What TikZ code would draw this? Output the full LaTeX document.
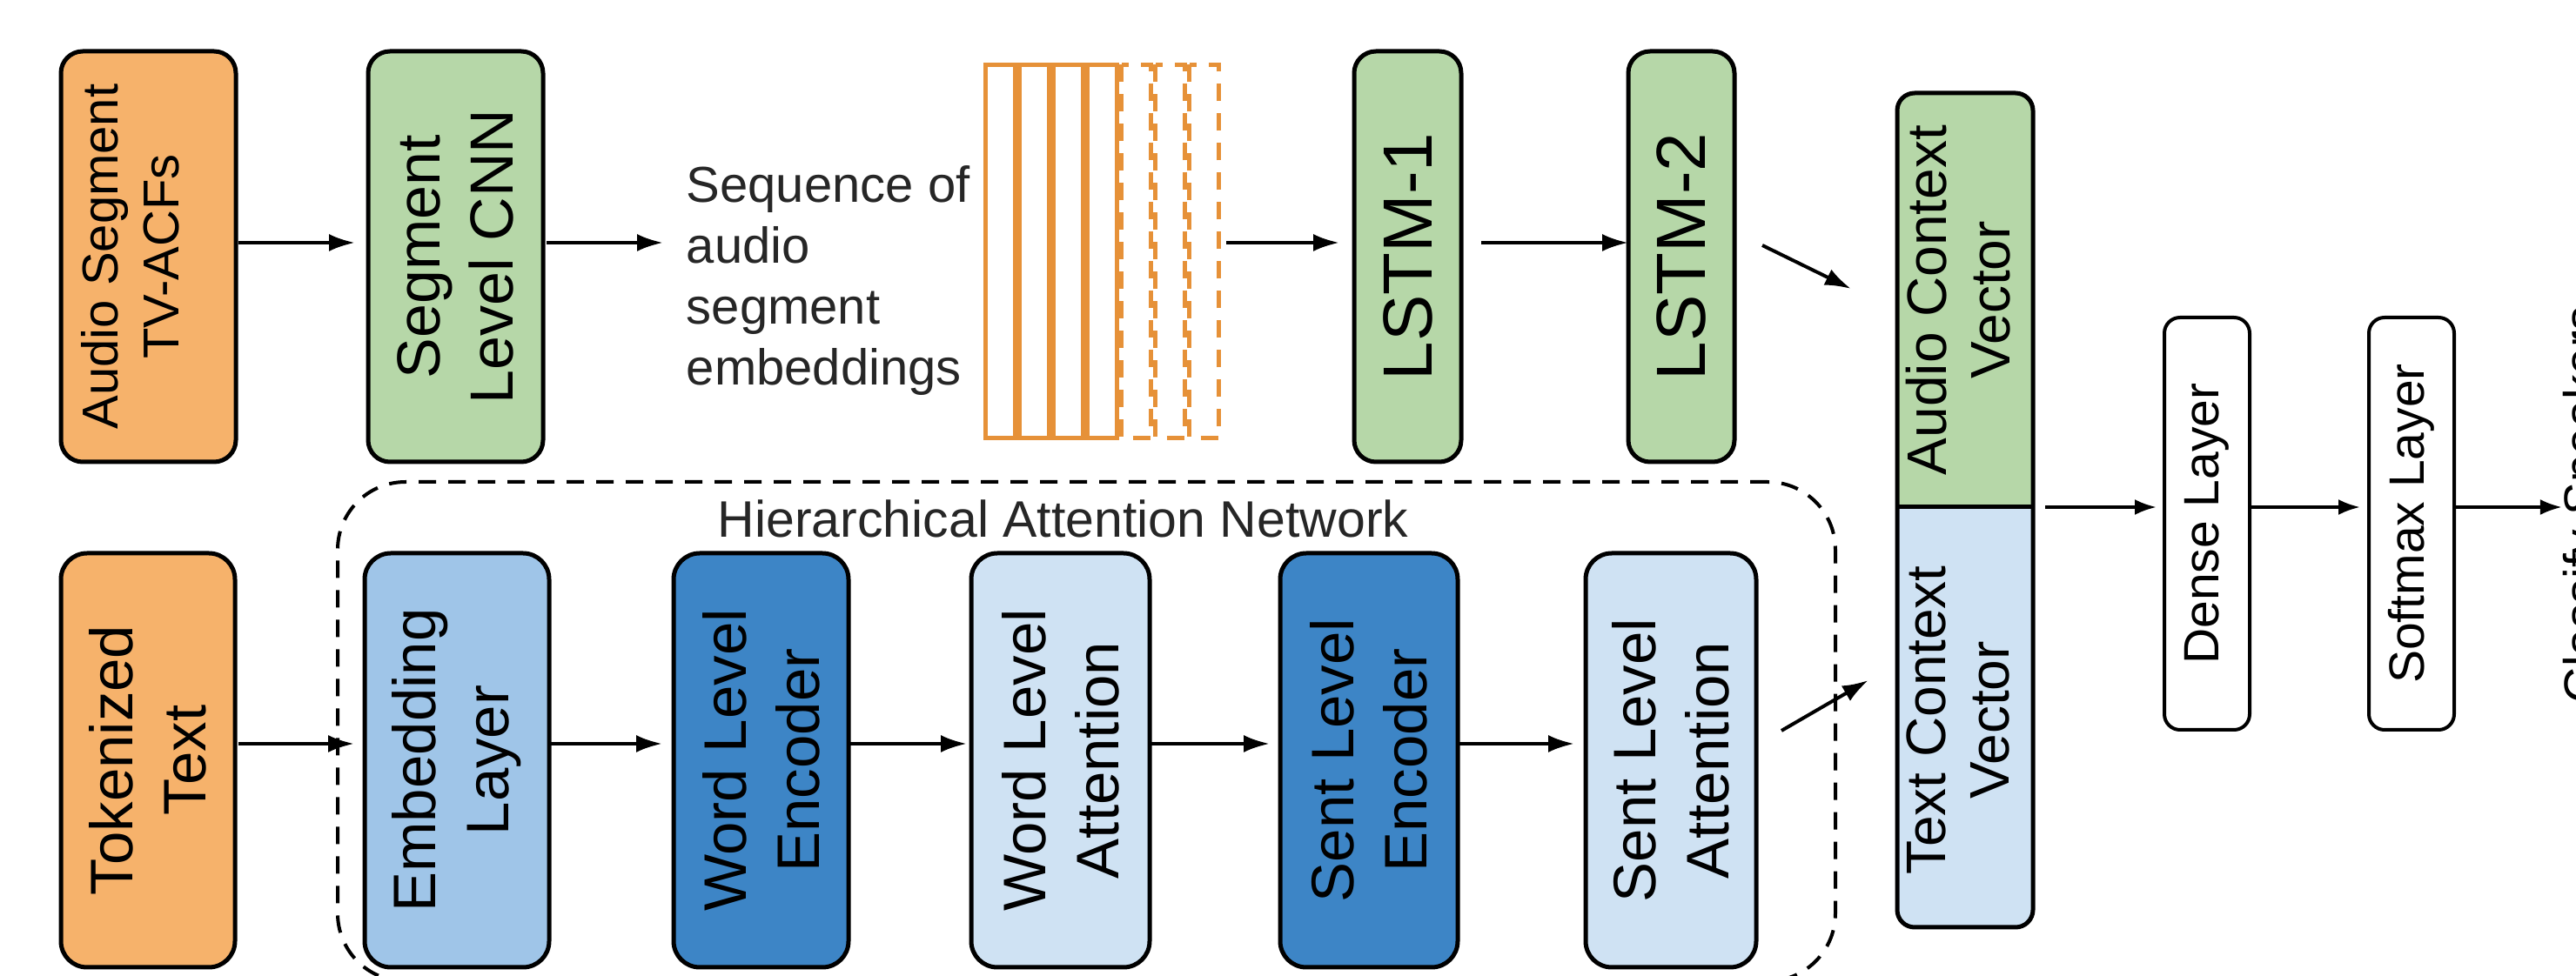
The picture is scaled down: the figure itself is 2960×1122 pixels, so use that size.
\documentclass[tikz,border=0pt]{standalone}
\usepackage{fontspec}
\setmainfont{Liberation Sans}
\usetikzlibrary{arrows.meta}

\definecolor{cOrange}{HTML}{F6B26B}
\definecolor{cGreen}{HTML}{B6D7A8}
\definecolor{cBlueL}{HTML}{9FC5E8}
\definecolor{cBlueD}{HTML}{3D85C6}
\definecolor{cBlueP}{HTML}{CFE2F3}
\definecolor{cStripe}{HTML}{E69138}

\newcommand\pxfont[2]{\fontsize{#1}{#2}\selectfont}

\begin{document}
\begin{tikzpicture}[x=0.25pt, y=-0.25pt,
  blk/.style={draw=black, line width=1.25pt, rotate=90, align=center,
              inner sep=0pt, outer sep=0pt},
  toprow/.style={blk, rounded corners=6.25pt, minimum width=118pt},
  botrow/.style={blk, rounded corners=7.5pt, minimum width=119pt,
                 font=\pxfont{17.25pt}{21pt}},
  sidebox/.style={draw=black, line width=1pt, rotate=90, rounded corners=4.5pt,
                  minimum width=118.5pt, minimum height=24.5pt, inner sep=0pt,
                  outer sep=0pt, fill=white, font=\pxfont{14.25pt}{17pt}},
  rotlabel/.style={rotate=90, align=center, inner sep=0pt},
  arr/.style={-{Latex[length=7.5pt,width=5pt]}, line width=1pt},
  arrs/.style={-{Latex[length=6.25pt,width=4.5pt]}, line width=0.9pt},
  stripebar/.style={draw=cStripe, line width=1.25pt},
]
\useasboundingbox (0,0) rectangle (2960,1122);

% rows along which the horizontal connectors run
\coordinate (rowA) at (0,279);
\coordinate (rowB) at (0,855);
\coordinate (rowC) at (0,583);

% ---------- audio branch ----------
\node[toprow, fill=cOrange, minimum height=50.25pt] (audio) at (170.5,295) {};
\node[rotlabel, font=\pxfont{14.5pt}{17.5pt}] (audioTxt) at (150,295)
  {Audio Segment\\TV-ACFs};
\node[toprow, fill=cGreen, minimum height=50.25pt, font=\pxfont{17.5pt}{21pt}]
  (cnn) at (523.5,295) {Segment\\Level CNN};
\node[anchor=west, align=left, inner sep=0pt, text=black!85,
      font=\pxfont{14.5pt}{17.5pt}] (seq) at (788,323)
  {Sequence of\\audio\\segment\\embeddings};

% sequence of segment embeddings: solid slices, then dashed ones
\node[inner sep=0pt, outer sep=0pt, minimum width=68.5pt, minimum height=108.5pt]
  (stripes) at (1267,289) {};
\foreach \i in {0,1,2,3}
  \draw[stripebar] ({1132.5+39*\i},74.5) rectangle ({1166.5+39*\i},503.5);
\foreach \i in {4,5,6}
  \draw[stripebar, dash pattern=on 5pt off 3.5pt]
    ({1132.5+39*\i},74.5) rectangle ({1166.5+39*\i},503.5);

\node[toprow, fill=cGreen, minimum height=30.75pt, font=\pxfont{20pt}{24pt}]
  (lstm1) at (1617.5,295) {LSTM-1};
\node[toprow, fill=cGreen, minimum height=30.5pt, font=\pxfont{20pt}{24pt}]
  (lstm2) at (1932,295) {LSTM-2};

% ---------- text branch ----------
\node[draw=black, line width=1pt, dash pattern=on 5pt off 3.5pt,
      rounded corners=19.5pt, minimum width=430.25pt, minimum height=143.5pt,
      inner sep=0pt, outer sep=0pt] (han) at (1248.5,841) {};
\node[anchor=base west, inner sep=0pt, text=black!85, font=\pxfont{14.75pt}{18pt}]
  (hanTitle) at (824,618) {Hierarchical Attention Network};

\node[botrow, fill=cOrange, minimum height=50pt] (tok) at (170,874) {Tokenized\\Text};
\node[botrow, fill=cBlueL, minimum height=53pt] (emb) at (525,874) {Embedding\\Layer};
\node[botrow, fill=cBlueD, minimum height=50.25pt] (wenc) at (874.5,874) {Word Level\\Encoder};
\node[botrow, fill=cBlueP, minimum height=51.25pt] (watt) at (1218.5,874) {Word Level\\Attention};
\node[botrow, fill=cBlueD, minimum height=51pt] (senc) at (1573,874) {Sent Level\\Encoder};
\node[botrow, fill=cBlueP, minimum height=49pt] (satt) at (1920,874) {Sent Level\\Attention};

% ---------- joint context vector ----------
\node[fill=cBlueP, rounded corners=5pt, minimum width=39pt, minimum height=239.75pt,
      inner sep=0pt, outer sep=0pt] (ctx) at (2258,586.5) {};
\begin{scope}
  \clip (ctx.north west) rectangle (ctx.east |- rowC);
  \fill[cGreen, rounded corners=5pt] (ctx.north west) rectangle (ctx.south east);
\end{scope}
\draw[line width=1.25pt, rounded corners=5pt] (ctx.north west) rectangle (ctx.south east);
\draw[line width=1.25pt] (ctx.west |- rowC) -- (ctx.east |- rowC);
\node[rotlabel, font=\pxfont{16pt}{18.25pt}] (ctxA) at (2250,345) {Audio Context\\Vector};
\node[rotlabel, font=\pxfont{16pt}{18.25pt}] (ctxT) at (2250,828) {Text Context\\Vector};

\node[sidebox] (dense) at (2536,602) {Dense Layer};
\node[sidebox] (softmax) at (2771,602) {Softmax Layer};
\node[rotate=90, anchor=base, inner sep=0pt, font=\pxfont{14.25pt}{17pt}]
  (cls) at (2986,580) {Classify Speakers};

% ---------- connectors ----------
\draw[arr, shorten <=0.75pt, shorten >=3.75pt] (audio.south |- rowA) -- (cnn.north |- rowA);
\draw[arr, shorten <=1pt, shorten >=6.5pt] (cnn.south |- rowA) -- (seq.west |- rowA);
\draw[arr, shorten <=1.25pt, shorten >=4.25pt] (stripes.east |- rowA) -- (lstm1.north |- rowA);
\draw[arr, shorten <=5.75pt] (lstm1.south |- rowA) -- (lstm2.north |- rowA);

\draw[arr, shorten <=1pt, shorten >=3pt] (tok.south |- rowB) -- (emb.north |- rowB);
\draw[arr, shorten >=3.25pt] (emb.south |- rowB) -- (wenc.north |- rowB);
\draw[arr, shorten >=1.25pt] (wenc.south |- rowB) -- (watt.north |- rowB);
\draw[arr, shorten >=3pt] (watt.south |- rowB) -- (senc.north |- rowB);
\draw[arr, shorten >=3.25pt] (senc.south |- rowB) -- (satt.north |- rowB);

\coordinate (audioOut) at (2025,282);
\coordinate (audioIn)  at (2127,332);
\coordinate (textOut)  at (2047,840);
\coordinate (textIn)   at (2147,782);
\draw[arr] (audioOut) -- (audioIn);
\draw[arr] (textOut) -- (textIn);

\draw[arrs, shorten <=3.5pt, shorten >=2.25pt] (ctx.east |- rowC) -- (dense.north |- rowC);
\draw[arrs, shorten >=2.5pt] (dense.south |- rowC) -- (softmax.north |- rowC);
\draw[arrs] (softmax.south |- rowC) -- (cls.north |- rowC);
\end{tikzpicture}
\end{document}
